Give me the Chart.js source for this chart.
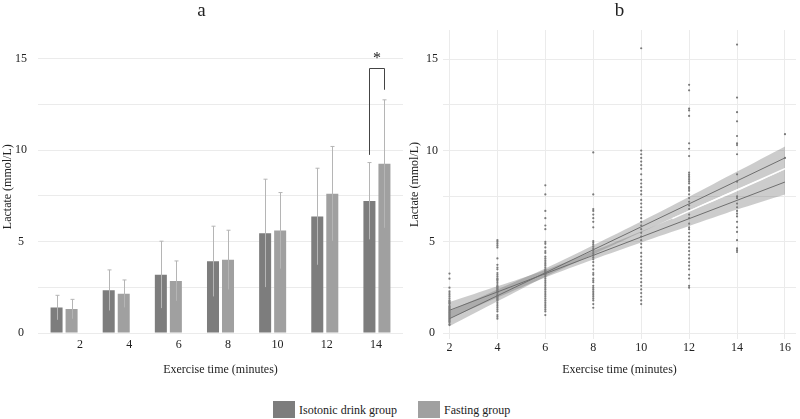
<!DOCTYPE html>
<html><head><meta charset="utf-8">
<script src="https://cdn.jsdelivr.net/npm/chart.js@4/dist/chart.umd.min.js"></script>
<style>
html,body{margin:0;padding:0;background:#fff;width:800px;height:419px;overflow:hidden;font-family:'Liberation Serif','Times New Roman',serif;color:#222}
#wa{position:absolute;left:0;top:0;width:403px;height:380px}
#wb{position:absolute;left:403px;top:0;width:397px;height:380px}
.box{position:absolute;top:401px;width:22px;height:17px}
.lt{position:absolute;top:403px;font-size:12px;line-height:14.4px;white-space:nowrap}
</style></head>
<body>
<div id="wa"><canvas id="ca"></canvas></div>
<div id="wb"><canvas id="cb"></canvas></div>
<div id="legend"></div>
<script>
// ---------- Panel a data ----------
const categories = ['2','4','6','8','10','12','14'];
const xTickValuesA = [2,4,6,8,10,12,14];
const isotonicMean = [1.39,2.34,3.19,3.92,5.46,6.37,7.22];
const isotonicSD   = [0.67,1.11,1.83,1.92,2.95,2.64,2.10];
const fastingMean  = [1.31,2.15,2.85,4.00,5.60,7.62,9.25];
const fastingSD    = [0.53,0.75,1.09,1.62,2.08,2.58,3.50];
const seriesNames  = ['Isotonic drink group','Fasting group'];
const yGridValues  = [0,2.5,5,7.5,10,12.5,15];
const yTickLabels  = [0,5,10,15];
const sigIndex = 6, sigLeftY = 9.74, sigRightY = 13.3, sigTopY = 14.5, sigStarY = 14.75, sigText = '*';

// ---------- Panel b data ----------
const xTickValuesB = [2,4,6,8,10,12,14,16];
const pts2  = [3.27,2.99,2.5,2.3,2.2,2.1,2.0,1.9,1.8,1.75,1.7,1.65,1.6,1.5,1.45,1.4,1.35,1.3,1.25,1.2,1.15,1.1,1.05,1.0,0.95,0.9,0.85,0.8,0.75,0.7,0.65,0.6,0.5,0.45];
const pts4  = [5.1,5.0,4.9,4.8,4.7,4.1,3.75,3.6,3.5,3.3,3.2,3.1,3.0,2.95,2.9,2.8,2.7,2.6,2.55,2.5,2.45,2.4,2.35,2.3,2.25,2.2,2.1,2.05,2.0,1.95,1.9,1.85,1.8,1.7,1.6,1.5,1.4,1.3,1.2,1.0,0.9,0.8];
const pts6  = [8.1,7.6,6.7,6.3,5.9,5.7,5.0,4.9,4.7,4.5,4.4,4.2,4.1,4.0,3.9,3.8,3.7,3.6,3.5,3.45,3.4,3.35,3.3,3.25,3.2,3.1,3.0,2.9,2.8,2.7,2.6,2.5,2.4,2.3,2.2,2.1,2.0,1.9,1.8,1.7,1.6,1.5,1.4,1.3,1.2,1.0];
const pts8  = [9.9,7.6,6.8,6.7,6.5,6.3,6.1,5.8,5.05,4.95,4.85,4.75,4.65,4.55,4.45,4.35,4.25,4.15,4.05,3.9,3.7,3.5,3.3,3.2,3.0,2.9,2.8,2.6,2.5,2.4,2.3,2.2,2.1,2.0,1.9,1.8,1.6,1.4];
const pts10 = [15.6,10.0,9.8,9.6,9.4,9.2,9.0,8.7,8.4,8.2,8.0,7.8,7.6,7.3,7.1,6.9,6.7,6.5,6.3,6.1,5.9,5.7,5.5,5.3,5.1,4.9,4.7,4.4,4.2,4.0,3.8,3.6,3.4,3.2,3.0,2.8,2.6,2.4,2.2,2.0,1.8,1.6];
const pts12 = [13.6,13.3,12.3,12.2,11.9,10.4,10.1,9.7,8.8,8.7,8.6,8.5,8.4,8.3,8.2,8.0,7.9,7.8,7.6,7.4,7.2,7.0,6.8,6.5,6.3,6.0,5.8,5.7,5.5,5.3,5.1,4.9,4.7,4.5,4.3,4.1,3.9,3.7,3.5,3.2,3.0,2.6,2.5];
const pts14 = [15.8,12.9,12.1,11.6,10.8,10.4,10.3,9.8,8.7,8.3,7.5,7.4,7.1,6.9,6.7,6.55,6.4,6.1,5.8,5.55,5.1,4.65,4.55,4.45];
const pts16 = [10.9,9.6];
const fitX = [2,16];
const fitSteep   = [0.8,9.6];
const fitShallow = [1.26,8.28];
const bandX = [2,4,6,8,10,12,14,16];
const steepUpper   = [1.22,2.40,3.55,4.82,6.12,7.47,8.85,10.23];
const steepLower   = [0.38,1.75,3.10,4.32,5.53,6.72,7.88,8.98];
const shallowUpper = [1.71,2.57,3.46,4.50,5.57,6.67,7.77,8.96];
const shallowLower = [0.81,1.96,3.06,4.04,4.97,5.87,6.77,7.60];
const seamX = [11.3,16];
const seamY = [6.28,9.01];

// ---------- styles ----------
const SERIF = "'Liberation Serif','Times New Roman',serif";
const DARK = '#7d7d7d', LIGHT = '#a0a0a0', ERR = '#b5b5b5', GRID = '#ebebeb', TXT = '#222';
const tickFont = {family:SERIF, size:12};
const titleFont = {family:SERIF, size:19, weight:'normal'};

const errorBarPlugin = {id:'errbars', afterDatasetsDraw(chart){
  const ctx = chart.ctx, ys = chart.scales.y;
  chart.data.datasets.forEach((ds,i)=>{
    chart.getDatasetMeta(i).data.forEach((bar,j)=>{
      const m = ds.data[j], sd = ds.sd[j];
      const x = Math.round(bar.x)+0.5;
      const yt = ys.getPixelForValue(m+sd), yb = ys.getPixelForValue(m-sd);
      ctx.save(); ctx.strokeStyle = ERR; ctx.lineWidth = 1;
      ctx.beginPath(); ctx.moveTo(x,yb); ctx.lineTo(x,yt);
      ctx.moveTo(x-2,yt); ctx.lineTo(x+2,yt); ctx.stroke(); ctx.restore();
    });
  });
}};
const sigPlugin = {id:'sig', afterDraw(chart){
  const ctx = chart.ctx, ys = chart.scales.y;
  const xl = Math.round(chart.getDatasetMeta(0).data[sigIndex].x)+0.5;
  const xr = Math.round(chart.getDatasetMeta(1).data[sigIndex].x)+0.5;
  const yt = Math.round(ys.getPixelForValue(sigTopY))+0.5;
  ctx.save(); ctx.strokeStyle = '#444'; ctx.lineWidth = 1;
  ctx.beginPath();
  ctx.moveTo(xl, ys.getPixelForValue(sigLeftY)); ctx.lineTo(xl, yt); ctx.lineTo(xr, yt); ctx.lineTo(xr, ys.getPixelForValue(sigRightY));
  ctx.stroke();
  ctx.fillStyle = TXT; ctx.font = "16px " + SERIF; ctx.textAlign = 'center'; ctx.textBaseline = 'alphabetic';
  ctx.fillText(sigText, (xl+xr)/2, ys.getPixelForValue(sigStarY));
  ctx.restore();
}};

new Chart(document.getElementById('ca'), {
  type:'bar',
  data:{labels:categories, datasets:[
    {label:seriesNames[0], data:isotonicMean, sd:isotonicSD, backgroundColor:DARK, categoryPercentage:0.576, barPercentage:0.8},
    {label:seriesNames[1], data:fastingMean, sd:fastingSD, backgroundColor:LIGHT, categoryPercentage:0.576, barPercentage:0.8}
  ]},
  options:{
    responsive:true, maintainAspectRatio:false, animation:false, devicePixelRatio:1,
    layout:{padding:0},
    plugins:{legend:{display:false}, tooltip:{enabled:false},
      title:{display:true, text:'a', color:TXT, font:titleFont, padding:{top:0,bottom:17.6}}},
    scales:{
      x:{type:'category', display:false},
      xl:{type:'linear', position:'bottom', min:0.3, max:15.09, offset:false,
        afterBuildTicks:s=>{ s.ticks = xTickValuesA.map(v=>({value:v})); },
        afterFit:s=>{ s.height = 47; },
        grid:{display:false, drawTicks:false, offset:false}, border:{display:false},
        ticks:{font:tickFont, color:TXT, padding:5, callback:v=>String(v)},
        title:{display:true, text:'Exercise time (minutes)', color:TXT, font:tickFont, padding:{top:4,bottom:2.8}}},
      y:{min:0, max:16,
        afterBuildTicks:s=>{ s.ticks = yGridValues.map(v=>({value:v})); },
        afterFit:s=>{ s.width = 38; },
        grid:{color:GRID, drawTicks:false}, border:{display:false},
        ticks:{font:tickFont, color:TXT, padding:11, crossAlign:'center', callback:v=>yTickLabels.includes(v)?String(v):''},
        title:{display:true, text:'Lactate (mmol/L)', color:TXT, font:tickFont, padding:{top:1,bottom:0}}}
    }
  },
  plugins:[errorBarPlugin, sigPlugin]
});

const zip = (xs,ys)=>xs.map((x,i)=>({x:x, y:ys[i]}));
const columns = [[2,pts2],[4,pts4],[6,pts6],[8,pts8],[10,pts10],[12,pts12],[14,pts14],[16,pts16]];
const scatterPts = [];
columns.forEach(([x,vals])=>vals.forEach(v=>scatterPts.push({x:x, y:v})));
const BAND = 'rgba(120,120,120,0.38)', NONE = 'rgba(0,0,0,0)', LINE = '#6e6e6e';
const bandDs = (ys, fill, order)=>({type:'line', data:zip(bandX, ys), borderColor:NONE, borderWidth:0, pointRadius:0, fill:fill, backgroundColor:BAND, tension:0.3, order:order});

new Chart(document.getElementById('cb'), {
  type:'scatter',
  data:{datasets:[
    {type:'line', data:zip(fitX, fitSteep), borderColor:LINE, borderWidth:1, pointRadius:0, fill:false, order:0},
    {type:'line', data:zip(fitX, fitShallow), borderColor:LINE, borderWidth:1, pointRadius:0, fill:false, order:0},
    {type:'line', data:zip(seamX, seamY), borderColor:'#ffffff', borderWidth:1.4, pointRadius:0, fill:false, order:1},
    {data:scatterPts, pointRadius:1.1, pointBackgroundColor:'#7a7a7a', pointBorderWidth:0, order:2},
    bandDs(steepUpper, false, 3),
    bandDs(steepLower, '-1', 3),
    bandDs(shallowUpper, false, 4),
    bandDs(shallowLower, '-1', 4)
  ]},
  options:{
    responsive:true, maintainAspectRatio:false, animation:false, devicePixelRatio:1,
    layout:{padding:{right:2}},
    plugins:{legend:{display:false}, tooltip:{enabled:false},
      title:{display:true, fullSize:false, text:'b', color:TXT, font:titleFont, padding:{top:0,bottom:7.2}}},
    scales:{
      x:{type:'linear', position:'bottom', min:1.73, max:16.46,
        afterBuildTicks:s=>{ s.ticks = xTickValuesB.map(v=>({value:v})); },
        afterFit:s=>{ s.height = 41.2; },
        grid:{color:GRID, drawTicks:false}, border:{display:false},
        ticks:{font:tickFont, color:TXT, padding:2, callback:v=>String(v)},
        title:{display:true, text:'Exercise time (minutes)', color:TXT, font:tickFont, padding:{top:4,bottom:2.8}}},
      y:{type:'linear', min:-0.3, max:16.6,
        afterBuildTicks:s=>{ s.ticks = yGridValues.map(v=>({value:v})); },
        afterFit:s=>{ s.width = 40; },
        grid:{color:GRID, drawTicks:false}, border:{display:false},
        ticks:{font:tickFont, color:TXT, padding:5, crossAlign:'center', callback:v=>yTickLabels.includes(v)?String(v):''},
        title:{display:true, text:'Lactate (mmol/L)', color:TXT, font:tickFont, padding:{top:4.8,bottom:0}}}
    }
  }
});

// ---------- legend ----------
const legendColors = [DARK, LIGHT];
const legendBoxX = [273, 418];
const lg = document.getElementById('legend');
seriesNames.forEach((name,i)=>{
  const b = document.createElement('div'); b.className='box'; b.style.left = legendBoxX[i]+'px'; b.style.background = legendColors[i];
  const t = document.createElement('div'); t.className='lt'; t.style.left = (legendBoxX[i]+26)+'px'; t.textContent = name;
  lg.appendChild(b); lg.appendChild(t);
});
</script>
</body></html>
